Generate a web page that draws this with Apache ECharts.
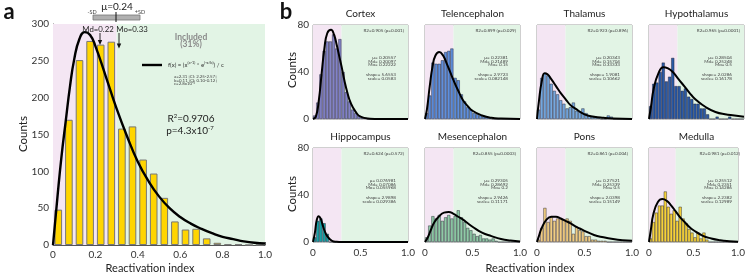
<!DOCTYPE html>
<html><head><meta charset="utf-8">
<script src="https://cdn.jsdelivr.net/npm/echarts@6/dist/echarts.min.js"></script>
<style>html,body{margin:0;padding:0;background:#fff}#c{width:748px;height:274px}</style>
</head><body><div id="c"></div>
<script>
// ---------- Panel a data ----------
const aBinCenters = [0.025,0.075,0.125,0.175,0.225,0.275,0.325,0.375,0.425,0.475,0.525,0.575,0.625,0.675,0.725,0.775,0.825,0.875,0.925,0.975];
const aCounts = [48,170,251,277,272,276,158,161,116,97,64,32,21,22,9,3,1,1,0,0];
const aCurveX = [0,0.02,0.04,0.06,0.08,0.1,0.125,0.15,0.175,0.2,0.25,0.3,0.35,0.4,0.45,0.5,0.55,0.6,0.65,0.7,0.75,0.8,0.85,0.9,0.95,1.0];
const aCurveY = [0,62,120,168,215,252,280,289,285,270,228,185,147,113,87,66,50,38,29,22,16,11,8,5,3,2];
const aYTicks = [0,50,100,150,200,250,300];
const aXTicks = ['0','0.2','0.4','0.6','0.8','1.0'];

// ---------- Panel b data ----------
const bBinCenters = [0.017,0.05,0.083,0.117,0.15,0.183,0.217,0.25,0.283,0.317,0.35,0.383,0.417,0.45,0.483,0.517,0.55,0.583,0.617,0.65,0.683,0.717,0.75,0.783,0.817,0.85,0.883,0.917,0.95,0.983];
const bNames = ['Cortex','Telencephalon','Thalamus','Hypothalamus','Hippocampus','Mesencephalon','Pons','Medulla'];

const cortexCounts = [3,14,38,58,66,66,72,60,68,40,23,15,8,5,3,1,1,0,0,0,0,0,0,0,0,0,0,0,0,0];
const cortexCurveX = [0,0.03,0.06,0.09,0.12,0.15,0.19,0.22,0.25,0.28,0.3,0.33,0.36,0.4,0.45,0.5,0.6,0.7,1.0];
const cortexCurveY = [0,2,15,38,60,73,76,72,63,52,45,33,23,13,6,2,0.3,0,0];

const telenCounts = [5,20,48,47,47,50,57,58,60,35,33,21,15,10,8,5,4,3,2,2,1,0,0,0,0,0,0,0,0,0];
const telenCurveX = [0,0.02,0.05,0.08,0.11,0.15,0.19,0.23,0.27,0.3,0.35,0.4,0.45,0.5,0.6,0.7,0.8,1.0];
const telenCurveY = [0,8,28,45,54,57,54,47,39,33,24,16,11,7,3,1,0.4,0];

const thalCounts = [8,35,39,37,30,24,21,16,13,9,10,14,7,6,9,5,3,2,2,1,0,0,3,2,0,0,0,0,0,0];
const thalCurveX = [0,0.02,0.05,0.08,0.11,0.15,0.2,0.25,0.3,0.35,0.4,0.5,0.6,0.7,0.8,1.0];
const thalCurveY = [0,15,32,39,38,34,28,22,17,12,9,4,2,1,0.4,0];

const hypoCounts = [11,30,31,40,48,32,36,52,28,28,24,26,19,17,13,13,9,9,4,0,0,2,0,0,0,2,0,0,0,0];
const hypoCurveX = [0,0.02,0.05,0.1,0.15,0.2,0.25,0.3,0.35,0.4,0.45,0.5,0.6,0.7,0.8,0.9,1.0];
const hypoCurveY = [0,10,26,39,44,43,40,35,30,25,20,16,10,6,4,3,2];

const hippoCounts = [4,18,20,16,7,0,0,0,0,0,0,0,0,0,0,0,0,0,0,0,0,0,0,0,0,0,0,0,0,0];
const hippoCurveX = [0,0.02,0.04,0.06,0.08,0.1,0.12,0.15,0.2,0.25,0.3,0.5,1.0];
const hippoCurveY = [0,8,19,22,20,15,10,5,1,0.2,0,0,0];

const mesenCounts = [4,14,22,20,23,18,21,23,20,22,27,21,17,12,10,7,5,6,3,3,2,3,1,0,0,0,0,0,0,0];
const mesenCurveX = [0,0.03,0.06,0.1,0.15,0.2,0.25,0.3,0.35,0.4,0.45,0.5,0.6,0.7,0.8,0.9,1.0];
const mesenCurveY = [0,4,10,17,22,25,25.5,24,21.5,19,16,13,8,5,2.5,1.2,0.5];

const ponsCounts = [2,12,29,17,21,18,20,20,19,20,18,7,13,10,9,5,5,2,2,1,1,1,0,0,0,0,0,0,0,0];
const ponsCurveX = [0,0.02,0.05,0.1,0.15,0.2,0.25,0.3,0.35,0.4,0.45,0.5,0.6,0.7,0.8,0.9,1.0];
const ponsCurveY = [0,5,12,19,21.5,21.5,20,18,16,13.5,11.5,9.5,6,4,2.5,1.5,1];

const medCounts = [3,17,25,31,31,43,30,24,27,18,30,20,16,11,8,4,8,3,8,2,0,0,0,0,0,0,0,0,0,0];
const medCurveX = [0,0.02,0.05,0.1,0.15,0.2,0.25,0.3,0.35,0.4,0.45,0.5,0.6,0.7,0.8,0.9,1.0];
const medCurveY = [0,10,24,34,36.5,35,31,26,21,17,13,10,5.5,3,1.5,0.7,0.3];

const bR2 = ['R2=0.905 (p=0.001)','R2=0.899 (p=0.029)','R2=0.923 (p=0.896)','R2=0.965 (p=0.0001)','R2=0.624 (p=0.572)','R2=0.855 (p=0.0003)','R2=0.861 (p=0.004)','R2=0.981 (p=0.012)'];
const bMu = ['0.20557','0.22381','0.20343','0.28504','0.076981','0.29305','0.27521','0.25512'];
const bMd = ['0.20097','0.21489','0.15704','0.25248','0.07086','0.28692','0.25339','0.2351'];
const bMo = ['0.22222','0.15','0.33333','0.5','0.055968','0.2','0.5','0.14286'];
const bShape = ['5.6553','2.9723','1.9081','2.0286','2.9898','2.9426','2.0398','2.2382'];
const bScale = ['0.0583','0.082148','0.10662','0.16178','0.029386','0.11171','0.15149','0.12989'];
const bYTicks = [0,40,80];
const bXTicks = ['0','0.5','1.0'];

const bCounts = [cortexCounts,telenCounts,thalCounts,hypoCounts,hippoCounts,mesenCounts,ponsCounts,medCounts];
const bCurveX = [cortexCurveX,telenCurveX,thalCurveX,hypoCurveX,hippoCurveX,mesenCurveX,ponsCurveX,medCurveX];
const bCurveY = [cortexCurveY,telenCurveY,thalCurveY,hypoCurveY,hippoCurveY,mesenCurveY,ponsCurveY,medCurveY];

// ---------- styling / layout ----------
const FONT = 'Lato';
const PINK = '#f4e6f3', GREEN = '#e2f4e5';
const bColors = ['#8383c6','#5f8fdc','#76a8de','#2b5aa6','#1aa4a8','#8fcaa6','#f0cc82','#f5d23c'];
const colLeft = [313,425,537,649], colW = 95;
const rowTop = [25,148], rowH = 94;

const grids=[], xAxes=[], yAxes=[], series=[], graphics=[];

function bgSeries(i){
  return {type:'line', xAxisIndex:i, yAxisIndex:i, data:[[0,0]], symbol:'none', silent:true,
    lineStyle:{opacity:0}, z:0,
    markArea:{silent:true, data:[[{xAxis:0, itemStyle:{color:PINK}},{xAxis:0.3}],[{xAxis:0.3, itemStyle:{color:GREEN}},{xAxis:1}]]}};
}

// Panel a
grids.push({left:53, top:24, width:212, height:221, show:false});
xAxes.push({type:'value', gridIndex:0, min:0, max:1, interval:0.2,
  axisLine:{show:true, onZero:false, lineStyle:{color:'#555', width:1}},
  axisTick:{show:true, inside:true, length:3, lineStyle:{color:'#555'}},
  splitLine:{show:false},
  axisLabel:{fontFamily:FONT, fontSize:10, color:'#333', margin:5, formatter:(v)=>aXTicks[Math.round(v/0.2)]}});
yAxes.push({type:'value', gridIndex:0, min:0, max:300, interval:50,
  axisLine:{show:true, lineStyle:{color:'#555', width:1}},
  axisTick:{show:true, inside:true, length:3, lineStyle:{color:'#555'}},
  splitLine:{show:false},
  axisLabel:{fontFamily:FONT, fontSize:10, color:'#333', margin:4, formatter:(v)=>aYTicks.includes(v)?String(v):''}});
series.push(bgSeries(0));
series.push({type:'bar', xAxisIndex:0, yAxisIndex:0, data:aBinCenters.map((c,j)=>[c,aCounts[j]]),
  barWidth:7.6, itemStyle:{color:'#ffd500', borderColor:'#777', borderWidth:1}, z:3});
series.push({type:'line', xAxisIndex:0, yAxisIndex:0, data:aCurveX.map((x,j)=>[x,aCurveY[j]]),
  smooth:true, symbol:'none', lineStyle:{color:'#000', width:2.4}, z:6});

// Panel b
for(let k=0;k<8;k++){
  const gi = k+1;
  const r = Math.floor(k/4), c = k%4;
  grids.push({left:colLeft[c], top:rowTop[r], width:colW, height:rowH, show:true, borderColor:'#888', borderWidth:0.8, backgroundColor:'transparent'});
  xAxes.push({type:'value', gridIndex:gi, min:0, max:1, interval:0.5,
    axisLine:{show:false}, axisTick:{show:false}, splitLine:{show:false},
    axisLabel:{show:r===1, fontFamily:FONT, fontSize:10, color:'#333', margin:6, formatter:(v)=>bXTicks[Math.round(v/0.5)]}});
  yAxes.push({type:'value', gridIndex:gi, min:0, max:80, interval:40,
    axisLine:{show:false}, axisTick:{show:false}, splitLine:{show:false},
    axisLabel:{show:c===0, fontFamily:FONT, fontSize:10, color:'#333', margin:4, formatter:(v)=>String(v)}});
  series.push(bgSeries(gi));
  series.push({type:'bar', xAxisIndex:gi, yAxisIndex:gi, data:bBinCenters.map((x,j)=>[x,bCounts[k][j]]),
    barWidth:3.1, itemStyle:{color:bColors[k], borderColor:'rgba(25,25,40,0.85)', borderWidth:0.5}, z:3});
  series.push({type:'line', xAxisIndex:gi, yAxisIndex:gi, data:bCurveX[k].map((x,j)=>[x,bCurveY[k][j]]),
    smooth:true, symbol:'none', lineStyle:{color:'#000', width:2}, z:6});

  const L = colLeft[c], T = rowTop[r];
  graphics.push({type:'text', x:L+colW/2, y:T-11, z:10, style:{text:bNames[k], font:`10px ${FONT}`, fill:'#222', textAlign:'center', textVerticalAlign:'middle', align:'center', verticalAlign:'middle'}});
  const small = `4.6px ${FONT}`;
  const lines = [[bR2[k],6,91],['\u03bc= '+bMu[k],33,83],['Md= '+bMd[k],36.5,83],['Mo= '+bMo[k],40,83],['shape= '+bShape[k],50,83],['scale= '+bScale[k],53.5,83]];
  lines.forEach(([t,dy,dx])=>{
    graphics.push({type:'text', x:L+dx, y:T+dy, z:10, style:{text:t, font:small, fill:'#444', textAlign:'right', textVerticalAlign:'middle', align:'right', verticalAlign:'middle'}});
  });
}

function txt(text,x,y,font,fill,align,extra){
  return Object.assign({type:'text', x:x, y:y, z:10, style:Object.assign({text:text, font:font, fill:fill||'#222', textAlign:align||'center', textVerticalAlign:'middle', align:align||'center', verticalAlign:'middle'}, extra||{})});
}

// Panel a annotations
graphics.push(txt('a',9,12,`bold 22px ${FONT}`,'#111'));
graphics.push(txt('b',286,12,`bold 22px ${FONT}`,'#111'));
graphics.push(txt('\u03bc=0.24',117,7,`10px ${FONT}`,'#222'));
graphics.push(txt('-SD',92,12,`5.5px ${FONT}`,'#444'));
graphics.push(txt('+SD',140,12,`5.5px ${FONT}`,'#444'));
graphics.push({type:'rect', z:10, shape:{x:93,y:15,width:47,height:5}, style:{fill:'#b0b0b0', stroke:'#777', lineWidth:0.8}});
graphics.push({type:'line', z:11, shape:{x1:116,y1:12,x2:116,y2:22}, style:{stroke:'#111', lineWidth:1}});
graphics.push(txt('Md=0.22',98,29,`7.8px ${FONT}`,'#222'));
graphics.push(txt('Mo=0.33',132,29,`7.8px ${FONT}`,'#222'));
graphics.push({type:'line', z:11, shape:{x1:100,y1:33,x2:100,y2:41}, style:{stroke:'#111', lineWidth:0.9}});
graphics.push({type:'polygon', z:11, shape:{points:[[97.8,40],[102.2,40],[100,45]]}, style:{fill:'#111'}});
graphics.push({type:'line', z:11, shape:{x1:119,y1:33,x2:119,y2:44}, style:{stroke:'#111', lineWidth:0.9}});
graphics.push({type:'polygon', z:11, shape:{points:[[116.8,43.5],[121.2,43.5],[119,48.5]]}, style:{fill:'#111'}});
const exA = txt('Excluded',73,36,`bold 8.5px ${FONT}`,'#e06ad9'); exA.z = 1; graphics.push(exA);
const exB = txt('(69%)',73,43.5,`bold 8.5px ${FONT}`,'#e06ad9'); exB.z = 1; graphics.push(exB);
graphics.push(txt('Included',191,37,`bold 8.5px ${FONT}`,'#8a8a8a'));
graphics.push(txt('(31%)',191,44,`bold 8.5px ${FONT}`,'#8a8a8a'));
graphics.push({type:'line', z:11, shape:{x1:142,y1:65,x2:162,y2:65}, style:{stroke:'#000', lineWidth:2.4}});
graphics.push(txt('f(x) = (x{s|(a-1)} * e{s|(-x/b)}) / c',168,65,`6px ${FONT}`,'#333','left',{rich:{s:{fontSize:4,fontFamily:FONT,verticalAlign:'top',padding:[0,0,4,0],fill:'#333'}}}));
graphics.push(txt('a=2.31 [CI: 2.25-2.57]',174,77,`4.4px ${FONT}`,'#444','left'));
graphics.push(txt('b=0.11 [CI: 0.10-0.12]',174,80.5,`4.4px ${FONT}`,'#444','left'));
graphics.push(txt('c=2.8x10{s|-5}',174,84,`4.4px ${FONT}`,'#444','left',{rich:{s:{fontSize:3.2,fontFamily:FONT,padding:[0,0,3,0],fill:'#444'}}}));
graphics.push(txt('R{s|2}=0.9706',191,119,`10px ${FONT}`,'#222','center',{rich:{s:{fontSize:6,fontFamily:FONT,padding:[0,0,5,0],fill:'#222'}}}));
graphics.push(txt('p=4.3x10{s|-7}',190,131,`10px ${FONT}`,'#222','center',{rich:{s:{fontSize:6,fontFamily:FONT,padding:[0,0,5,0],fill:'#222'}}}));
// axis titles
graphics.push({type:'text', x:23, y:134, z:10, rotation:Math.PI/2, style:{text:'Counts', font:`11.5px ${FONT}`, fill:'#222', textAlign:'center', textVerticalAlign:'middle', align:'center', verticalAlign:'middle'}});
graphics.push({type:'text', x:292, y:70, z:10, rotation:Math.PI/2, style:{text:'Counts', font:`11.5px ${FONT}`, fill:'#222', textAlign:'center', textVerticalAlign:'middle', align:'center', verticalAlign:'middle'}});
graphics.push({type:'text', x:292, y:194, z:10, rotation:Math.PI/2, style:{text:'Counts', font:`11.5px ${FONT}`, fill:'#222', textAlign:'center', textVerticalAlign:'middle', align:'center', verticalAlign:'middle'}});
graphics.push(txt('Reactivation index',150,268,`11px ${FONT}`,'#222'));
graphics.push(txt('Reactivation index',530,268,`11px ${FONT}`,'#222'));

const chart = echarts.init(document.getElementById('c'), null, {renderer:'canvas'});
chart.setOption({
  animation:false,
  backgroundColor:'#fff',
  grid:grids, xAxis:xAxes, yAxis:yAxes, series:series,
  graphic:{elements:graphics}
});
</script></body></html>
